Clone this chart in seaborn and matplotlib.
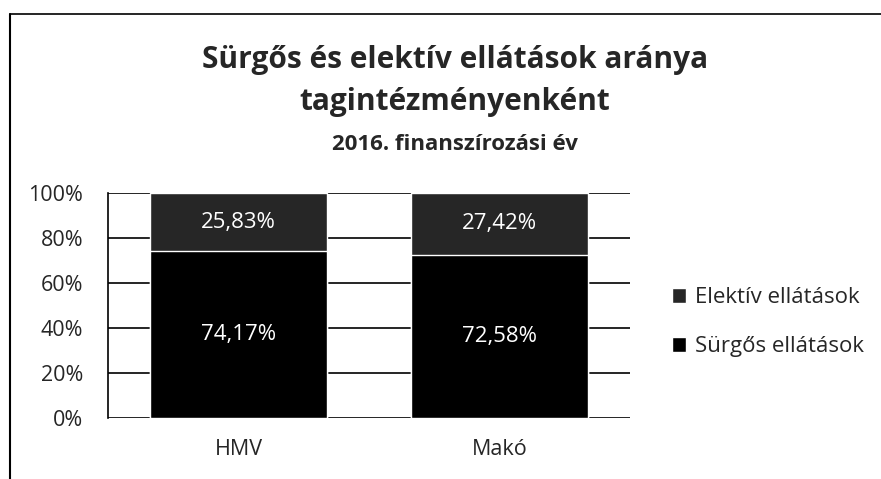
import matplotlib.pyplot as plt
import seaborn as sns
import pandas as pd

# Data (share of cases per member institution, %)
sites = ['HMV', 'Makó']
urgent = [74.17, 72.58]      # Sürgős ellátások
elective = [25.83, 27.42]    # Elektív ellátások

urgent_color = '#000000'
elective_color = '#262626'

sns.set_theme(style='white')
plt.rcParams['font.family'] = ['Open Sans', 'DejaVu Sans']

df = pd.DataFrame({'site': sites, 'urgent': urgent, 'elective': elective})
df['total'] = df['urgent'] + df['elective']

fig = plt.figure(figsize=(8.81, 4.79), dpi=100)
ax = fig.add_axes([108 / 881, 1 - 418 / 479, 522 / 881, 225 / 479])

# stacked bars: full height in elective colour, urgent drawn over it
sns.barplot(data=df, x='site', y='total', color=elective_color, width=0.68,
            saturation=1, ax=ax, label='Elektív ellátások', zorder=2)
sns.barplot(data=df, x='site', y='urgent', color=urgent_color, width=0.68,
            saturation=1, ax=ax, label='Sürgős ellátások', zorder=3)
handles, labels = ax.get_legend_handles_labels()
if ax.get_legend() is not None:
    ax.get_legend().remove()

for i, (u, e) in enumerate(zip(urgent, elective)):
    ax.text(i, u / 2, f'{u:.2f}%'.replace('.', ','), ha='center', va='center',
            color='white', fontsize=16, zorder=4)
    ax.text(i, u + e / 2, f'{e:.2f}%'.replace('.', ','), ha='center', va='center',
            color='white', fontsize=16, zorder=4)

ax.set_ylim(0, 100)
ax.set_yticks(range(0, 101, 20))
ax.set_yticklabels([f'{t}%' for t in range(0, 101, 20)], fontsize=15.5)
ax.tick_params(axis='x', labelsize=15.5, pad=15, length=0)
ax.tick_params(axis='y', pad=18, length=0)
ax.set_xlabel('')
ax.set_ylabel('')
ax.yaxis.grid(True, color='black', linewidth=1.2)
ax.set_axisbelow(True)
for side in ['top', 'right', 'bottom']:
    ax.spines[side].set_visible(False)
ax.spines['left'].set_color('black')
ax.spines['left'].set_linewidth(1.2)

fig.legend(handles, labels, loc='center left', bbox_to_anchor=(652 / 881, 1 - 322 / 479),
           frameon=False, fontsize=16, handlelength=0.65, handleheight=0.65,
           handletextpad=0.4, labelspacing=1.25)

fig.text(0.516, 1 - 60 / 479, 'Sürgős és elektív ellátások aránya', ha='center', va='center',
         fontsize=21.5, fontweight='bold')
fig.text(0.516, 1 - 102 / 479, 'tagintézményenként', ha='center', va='center',
         fontsize=21.5, fontweight='bold')
fig.text(0.516, 1 - 144 / 479, '2016. finanszírozási év', ha='center', va='center',
         fontsize=16, fontweight='bold')

# scanned chart frame (left and top edges)
fig.add_artist(plt.Line2D([10 / 881, 10 / 881], [0, 1 - 14 / 479], color='black', linewidth=1.5))
fig.add_artist(plt.Line2D([10 / 881, 1], [1 - 14 / 479, 1 - 14 / 479], color='black', linewidth=1.2))

fig.savefig('out.png', dpi=100)
